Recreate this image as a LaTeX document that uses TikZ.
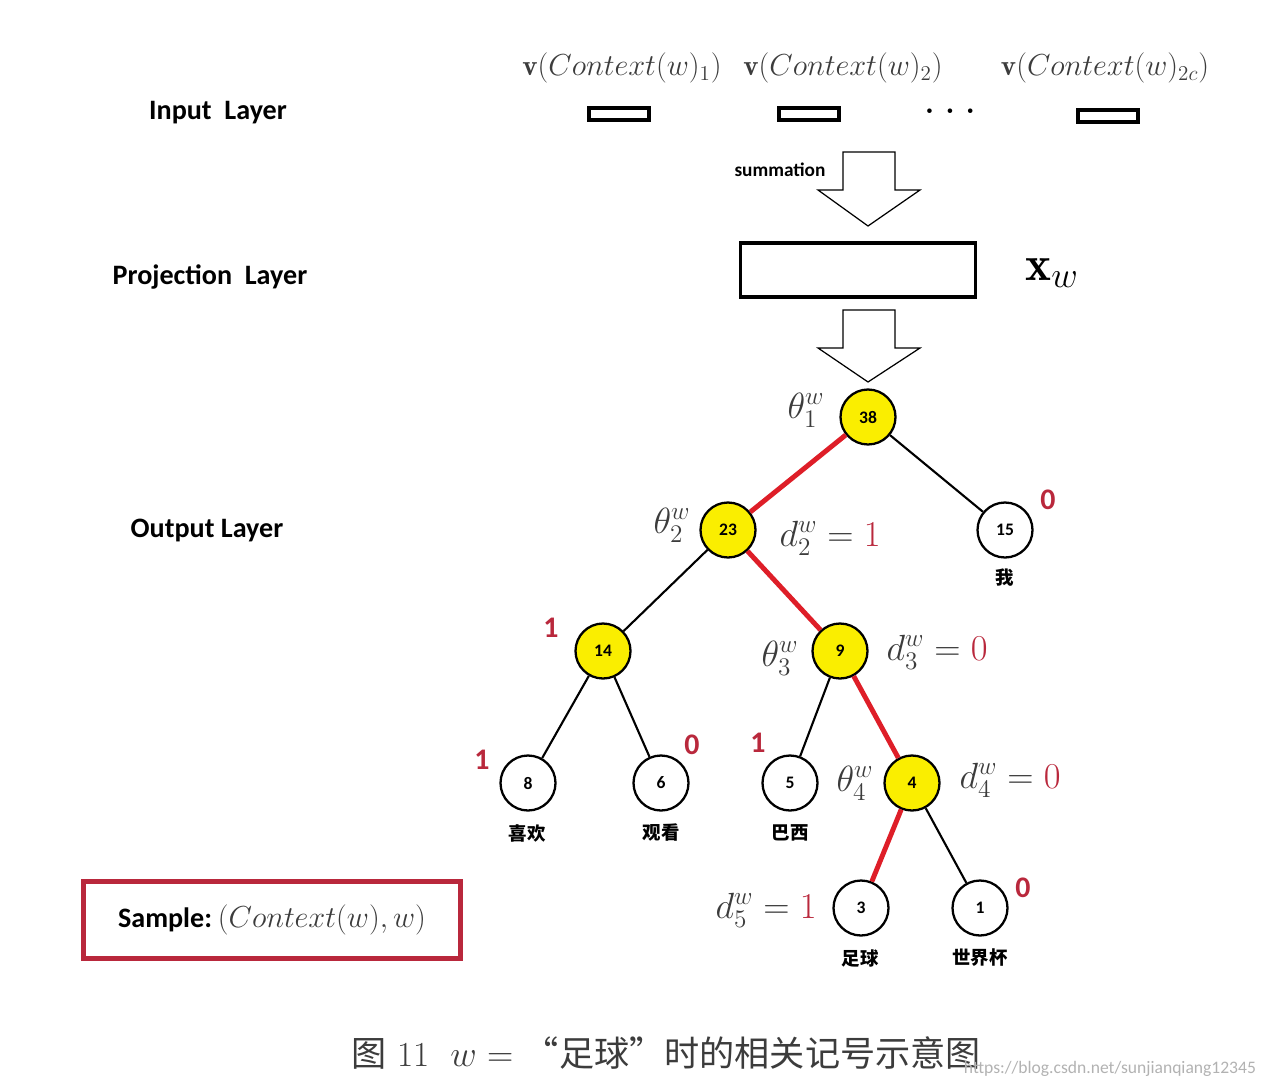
\documentclass[tikz,border=0pt]{standalone}
\usepackage{fontspec}
\setsansfont{Carlito}
\newfontfamily\cjk{Noto Sans CJK SC}
\definecolor{pathred}{RGB}{222,30,40}
\definecolor{numred}{RGB}{185,40,60}
\definecolor{nodeyellow}{RGB}{250,238,0}
\definecolor{mathgray}{RGB}{60,60,60}
\begin{document}
\begin{tikzpicture}[
    x=0.02cm,
    y=-0.02cm,
    layer/.style={
        font=\sffamily\bfseries\fontsize{16}{19}\selectfont
    },
    vecbox/.style={
        rectangle,
        draw,
        line width=2.8pt,
        minimum width=1.2cm,
        minimum height=0.24cm,
        inner sep=0pt
    },
    veclabel/.style={
        font=\fontsize{16.5}{19}\selectfont,
        text=mathgray
    },
    hnode/.style={
        circle,
        draw,
        line width=1.3pt,
        minimum size=1.1cm,
        inner sep=0pt,
        font=\sffamily\bfseries\fontsize{10}{12}\selectfont
    },
    onpath/.style={hnode, fill=nodeyellow},
    leaf/.style={hnode, fill=white},
    edge/.style={line width=1.2pt},
    pathedge/.style={line width=2.8pt, draw=pathred},
    bit/.style={
        font=\sffamily\bfseries\fontsize{17}{20}\selectfont,
        text=numred
    },
    word/.style={font=\cjk\bfseries\fontsize{10.5}{12}\selectfont},
    mlabel/.style={
        font=\fontsize{20}{24}\selectfont,
        text=mathgray,
        inner sep=1pt
    },
    blockarrow/.style={
        draw,
        line width=0.7pt,
        fill=white
    }
]
\useasboundingbox (0,0) rectangle (1266,1088);

% Layer names
\node[layer] (inlayer) at (218,113) {Input\ \ Layer};
\node[layer] (projlayer) at (210,277) {Projection\ \ Layer};
\node[layer] (outlayer) at (207,530) {Output Layer};

% Input layer
\node[veclabel] (c1) at (622,68) {$\mathbf{v}(Context(w)_1)$};
\node[veclabel] (c2) at (843,68) {$\mathbf{v}(Context(w)_2)$};
\node[veclabel] (c3) at (1105,68) {$\mathbf{v}(Context(w)_{2c})$};
\node[vecbox] (v1) at (619,114) {};
\node[vecbox] (v2) at (809,114) {};
\node[font=\bfseries\fontsize{18}{20}\selectfont] (vdots) at (950,111) {.\,\,.\,\,.};
\node[vecbox] (v3) at (1108,116) {};

% Summation
\draw[blockarrow] (843,152) -- (895,152) -- (895,190) -- (920,190)
    -- (868,226) -- (818,190) -- (843,190) -- cycle;
\node[font=\sffamily\bfseries\fontsize{11}{13}\selectfont] (sum) at (780,170) {summation};

% Projection layer
\node[rectangle, draw, line width=1.8pt, minimum width=4.7cm,
    minimum height=1.08cm] (proj) at (858,270) {};
\node[font=\fontsize{28}{32}\selectfont] (xw) at (1052,273) {$\mathbf{x}_w$};
\draw[blockarrow] (843,310) -- (895,310) -- (895,348) -- (920,348)
    -- (868,382) -- (818,348) -- (843,348) -- cycle;

% Huffman tree
\node[onpath] (n38) at (868,417) {38};
\node[onpath] (n23) at (728,530) {23};
\node[leaf] (n15) at (1005,530) {15};
\node[onpath] (n14) at (603,651) {14};
\node[onpath] (n9) at (840,651) {9};
\node[leaf] (n8) at (528,783) {8};
\node[leaf] (n6) at (661,783) {6};
\node[leaf] (n5) at (790,783) {5};
\node[onpath] (n4) at (912,783) {4};
\node[leaf] (n3) at (861,908) {3};
\node[leaf] (n1) at (980,908) {1};

% Edges
\draw[pathedge] (n38) -- (n23);
\draw[edge] (n38) -- (n15);
\draw[edge] (n23) -- (n14);
\draw[pathedge] (n23) -- (n9);
\draw[edge] (n14) -- (n8);
\draw[edge] (n14) -- (n6);
\draw[edge] (n9) -- (n5);
\draw[pathedge] (n9) -- (n4);
\draw[pathedge] (n4) -- (n3);
\draw[edge] (n4) -- (n1);

% Words
\node[word] (wwo) at (1005,578) {我};
\node[word] (wxh) at (527,833) {喜欢};
\node[word] (wgk) at (661,833) {观看};
\node[word] (wbx) at (790,833) {巴西};
\node[word] (wzq) at (860,958) {足球};
\node[word] (wsjb) at (980,958) {世界杯};

% Codes
\node[bit] (b15) at (1048,500) {0};
\node[bit] (b14) at (551,628) {1};
\node[bit] (b8) at (482,760) {1};
\node[bit] (b6) at (692,745) {0};
\node[bit] (b5) at (758,743) {1};
\node[bit] (b1) at (1023,888) {0};

% Parameters
\node[mlabel] (t1) at (806,410) {$\theta_1^w$};
\node[mlabel] (t2) at (672,525) {$\theta_2^w$};
\node[mlabel] (d2) at (830,538) {$d_2^w = {\color{numred}1}$};
\node[mlabel] (t3) at (780,658) {$\theta_3^w$};
\node[mlabel] (d3) at (937,652) {$d_3^w = {\color{numred}0}$};
\node[mlabel] (t4) at (855,783) {$\theta_4^w$};
\node[mlabel] (d4) at (1010,780) {$d_4^w = {\color{numred}0}$};
\node[mlabel] (d5) at (766,910) {$d_5^w = {\color{numred}1}$};

% Sample
\node[rectangle, draw=numred, line width=2.6pt, minimum width=7.55cm,
    minimum height=1.55cm] (sample) at (272,920)
    {{\sffamily\bfseries\fontsize{16}{19}\selectfont Sample:}\
    {\fontsize{16}{19}\selectfont\color{mathgray}$(Context(w),w)$}};

% Caption
\node[font=\fontsize{20}{24}\selectfont, text=mathgray] (caption) at (666,1053)
    {{\cjk 图} 11\ \ $w=$ {\cjk “足球”时的相关记号示意图}};
\node[font=\sffamily\fontsize{10}{12}\selectfont, text=gray!60] (mark) at (1110,1069)
    {https://blog.csdn.net/sunjianqiang12345};

\end{tikzpicture}
\end{document}
